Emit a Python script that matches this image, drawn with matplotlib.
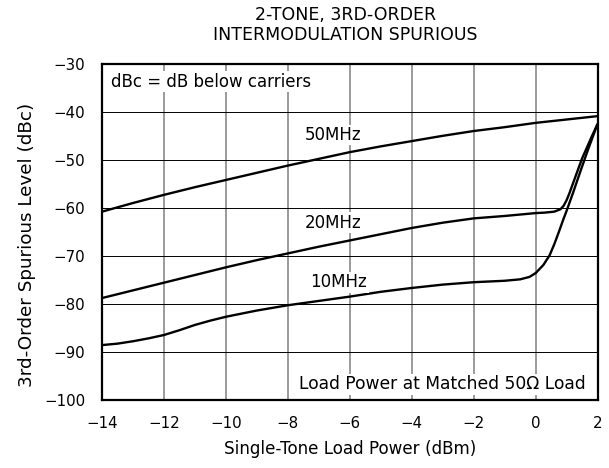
import matplotlib
matplotlib.use("Agg")
import matplotlib.pyplot as plt

# single-tone load power (dBm) and 3rd-order spurious level (dBc) per tone spacing
x_50 = [-14, -13, -12, -11, -10, -9, -8, -7, -6, -5, -4, -3, -2, -1, 0, 1, 2]
y_50 = [-60.7, -58.9, -57.2, -55.6, -54.1, -52.6, -51.1, -49.7, -48.3, -47.1,
        -46.0, -44.9, -43.9, -43.1, -42.2, -41.5, -40.8]

x_20 = [-14, -13, -12, -11, -10, -9, -8, -7, -6, -5, -4, -3, -2, -1, -0.5, 0,
        0.3, 0.6, 0.8, 0.9, 1.0, 1.1, 1.2, 1.5, 1.8, 2]
y_20 = [-78.7, -77.1, -75.5, -73.9, -72.3, -70.8, -69.4, -68.0, -66.7, -65.4,
        -64.1, -63.0, -62.1, -61.6, -61.3, -61.0, -60.9, -60.7, -60.2, -59.5,
        -58.3, -56.7, -54.9, -49.6, -45.2, -42.4]

x_10 = [-14, -13.5, -13, -12.5, -12, -11.5, -11, -10.5, -10, -9, -8, -7, -6,
        -5, -4, -3, -2, -1, -0.5, -0.2, 0, 0.25, 0.45, 0.6, 0.75, 0.9, 1.0,
        1.2, 1.45, 1.7, 2]
y_10 = [-88.5, -88.2, -87.7, -87.1, -86.4, -85.4, -84.3, -83.4, -82.6, -81.3,
        -80.2, -79.3, -78.4, -77.4, -76.6, -75.9, -75.4, -75.1, -74.8, -74.3,
        -73.5, -71.8, -69.8, -67.5, -64.9, -62.2, -60.5, -56.9, -52.2, -47.6,
        -42.4]

series = [(x_50, y_50), (x_20, y_20), (x_10, y_10)]
curve_labels = ["50MHz", "20MHz", "10MHz"]
label_x = [-6.55, -6.55, -6.35]
label_y = [-44.7, -63.0, -75.4]

x_ticks = list(range(-14, 3, 2))
y_ticks = list(range(-100, -29, 10))


def fmt(v):
    return str(v).replace("-", "\u2212")


fig = plt.figure(figsize=(6.09, 4.68), dpi=100)
ax = fig.add_axes([0.1675, 0.1447, 0.8138, 0.7179])

ax.set_xlim(-14, 2)
ax.set_ylim(-100, -30)
ax.set_xticks(x_ticks)
ax.set_yticks(y_ticks)
ax.set_xticklabels([fmt(v) for v in x_ticks])
ax.set_yticklabels([fmt(v) for v in y_ticks])
ax.tick_params(length=0, labelsize=10.8, pad=11)
ax.tick_params(axis="y", pad=12)

# vertical grid in gray, horizontal grid in black
ax.grid(axis="x", color="#808080", linewidth=1.1)
ax.grid(axis="y", color="black", linewidth=0.7)
ax.set_axisbelow(True)
for s in ax.spines.values():
    s.set_linewidth(1.6)

for (xs, ys) in series:
    ax.plot(xs, ys, color="black", linewidth=1.7, solid_capstyle="butt", zorder=3)

box = dict(facecolor="white", edgecolor="none", pad=1.0)
for lab, lx, ly in zip(curve_labels, label_x, label_y):
    ax.text(lx, ly, lab, fontsize=12, ha="center", va="center", bbox=box, zorder=4)

ax.text(-13.72, -33.6, "dBc = dB below carriers", fontsize=12, ha="left",
        va="center", bbox=box, zorder=4)
ax.text(1.6, -96.7, "Load Power at Matched 50\u03a9 Load", fontsize=12.3, ha="right",
        va="center", bbox=box, zorder=4)

ax.set_xlabel("Single-Tone Load Power (dBm)", fontsize=12.1, labelpad=7)
ax.set_ylabel("3rd-Order Spurious Level (dBc)", fontsize=13.2)
ax.yaxis.set_label_coords(-0.133, 0.462)

fig.text(0.5675, 1 - 25 / 468, "2-TONE, 3RD-ORDER\nINTERMODULATION SPURIOUS",
         fontsize=12.5, ha="center", va="center", linespacing=1.1)

fig.savefig("out.png", dpi=100)
